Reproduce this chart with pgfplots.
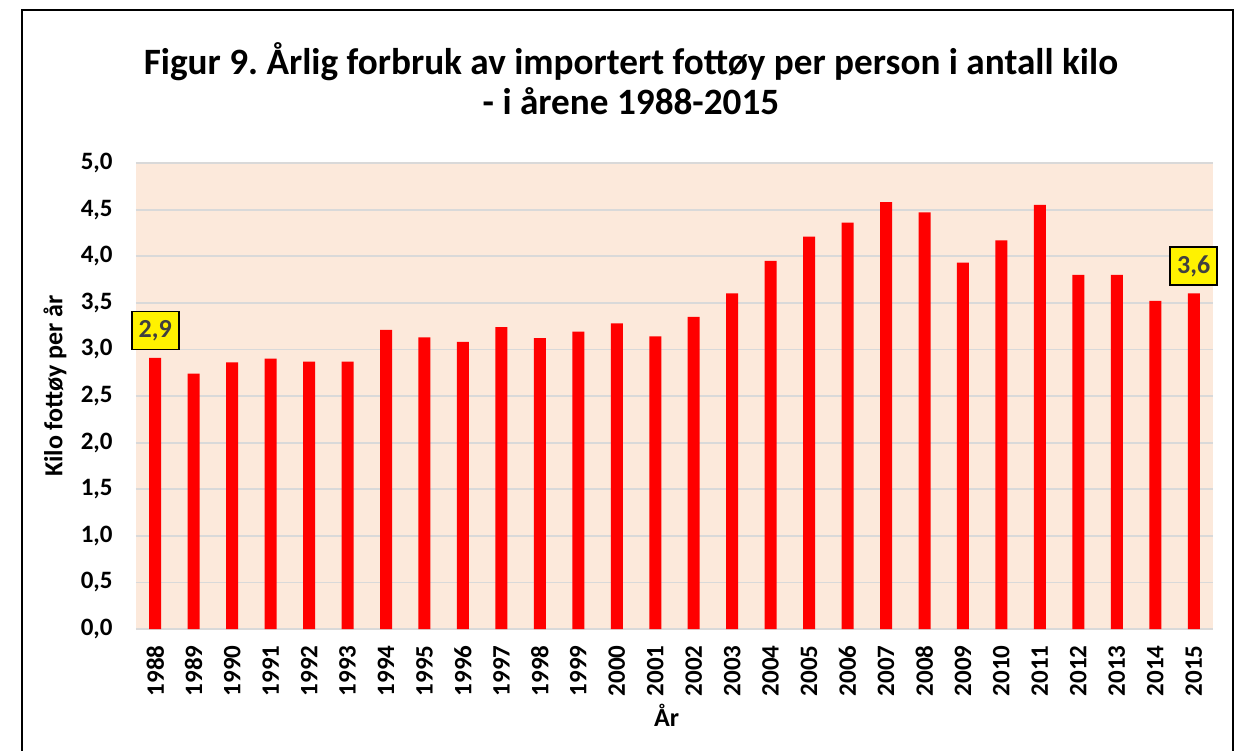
\documentclass[border=0pt]{standalone}
\usepackage{pgfplots}
\pgfplotsset{compat=1.18}
\usepackage{fontspec}
\setmainfont{Carlito}
\definecolor{plotbg}{HTML}{FCE9DB}
\definecolor{gridc}{HTML}{D9D9D9}
\definecolor{lblc}{HTML}{404040}
\begin{document}
\frenchspacing
\begin{tikzpicture}
\useasboundingbox (-68bp,-61bp) rectangle (552.5bp,314.5bp);
\draw[black, line width=1bp] (-57bp,-70bp) rectangle (548.5bp,309.5bp);
\node[font=\bfseries\fontsize{18.6bp}{20bp}\selectfont, align=center] at (247.5bp,275bp)
  {Figur 9. Årlig forbruk av importert fottøy per person i antall kilo\\- i årene 1988-2015};
\begin{axis}[
  at={(0,0)}, anchor=south west, scale only axis,
  width=538.5bp, height=233bp,
  xmin=1987.5, xmax=2015.5, ymin=0, ymax=5,
  xtick={1988,1989,...,2015},
  ytick={0,0.5,1,1.5,2,2.5,3,3.5,4,4.5,5},
  axis background/.style={fill=plotbg},
  axis line style={draw=none},
  major tick length=0pt,
  ymajorgrids, grid style={gridc, line width=0.9bp},
  /pgf/number format/assume math mode=true,
  ticklabel style={font=\bfseries\fontsize{12.5bp}{14bp}\selectfont},
  yticklabel style={/pgf/number format/.cd, fixed, fixed zerofill, precision=1, use comma,
    /tikz/.cd, anchor=east, inner xsep=11.5bp},
  xticklabel style={/pgf/number format/.cd, 1000 sep={}, /tikz/.cd, rotate=90, anchor=east, inner xsep=8bp, inner ysep=0pt},
  ylabel={Kilo fottøy per år},
  xlabel={År},
  every axis y label/.style={at={(axis description cs:0,0.5)}, xshift=-40.5bp, yshift=5bp, rotate=90, anchor=center,
    font=\bfseries\fontsize{13bp}{15bp}\selectfont},
  every axis x label/.style={at={(axis description cs:0.5,0)}, yshift=-43bp, xshift=-4bp, anchor=center,
    font=\bfseries\fontsize{13bp}{15bp}\selectfont},
  clip=false,
]
\addplot[ybar, bar width=6bp, fill=red, draw=none] table {
x y
1988 2.91
1989 2.74
1990 2.86
1991 2.90
1992 2.87
1993 2.87
1994 3.21
1995 3.13
1996 3.08
1997 3.24
1998 3.12
1999 3.19
2000 3.28
2001 3.14
2002 3.35
2003 3.60
2004 3.95
2005 4.21
2006 4.36
2007 4.58
2008 4.47
2009 3.93
2010 4.17
2011 4.55
2012 3.80
2013 3.80
2014 3.52
2015 3.60
};
\addplot[draw=none, mark=none, nodes near coords, point meta=explicit symbolic,
  every node near coord/.style={anchor=south, yshift=3.8bp, fill=yellow, draw=black, line width=0.8bp,
    minimum width=23.5bp, minimum height=19bp, inner sep=0pt, text=lblc,
    font=\bfseries\fontsize{13bp}{15bp}\selectfont}] table[meta=label] {
x y label
1988 2.91 2,9
2015 3.60 3,6
};
\end{axis}
\end{tikzpicture}
\end{document}
